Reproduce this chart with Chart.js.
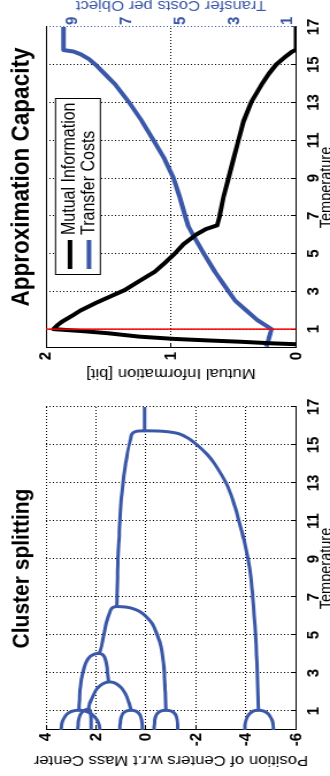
<!DOCTYPE html>
<html><head><meta charset="utf-8">
<script src="https://cdn.jsdelivr.net/npm/chart.js@4.4.0/dist/chart.umd.min.js"></script>
<style>
html,body{margin:0;padding:0;background:#fff;overflow:hidden;width:330px;height:776px;}
#fig{position:absolute;left:0;top:0;width:808px;height:295px;transform-origin:0 0;background:#fff;}
#fig canvas{position:absolute;top:0;}
</style></head><body>
<div id="fig">
<canvas id="left" width="390" height="295" style="left:0px"></canvas>
<canvas id="right" width="418" height="295" style="left:390px"></canvas>
</div>
<script>
// ---------- data ----------
const tempTicks = [1, 3, 5, 7, 9, 11, 13, 15, 17];
const positionTicks = [4, 2, 0, -2, -4, -6];
const miTicks = [0, 1, 2];
const costTicks = [1, 3, 5, 7, 9];

// Cluster splitting: branches as [temperature, position]
const branchTrunk = [[17, 0.05], [15.75, 0.05]];
const branchRootUpper = [[15.75,0.05],[15.72,0.38],[15.6,0.55],[15.3,0.62],[14.6,0.74],[13.8,0.84],[13.0,0.92],[12.0,1.0],[11.0,1.05],[10.0,1.08],[9.0,1.12],[8.0,1.14],[7.0,1.16],[6.5,1.17]];
const branchRootLower = [[15.75,0.05],[15.72,-0.7],[15.6,-1.3],[15.35,-1.7],[15.0,-2.05],[14.5,-2.45],[14.0,-2.75],[13.0,-3.2],[12.0,-3.5],[11.0,-3.72],[10.0,-3.92],[9.0,-4.08],[8.0,-4.2],[7.0,-4.27],[6.0,-4.33],[5.0,-4.38],[4.0,-4.42],[3.0,-4.45],[2.0,-4.48],[1.05,-4.5]];
const branchE1 = [[1.05,-4.5],[1.0,-4.3],[0.9,-4.18],[0.75,-4.08],[0.5,-4.0],[0.25,-3.96],[0,-3.95]];
const branchE2 = [[1.05,-4.5],[1.0,-4.7],[0.9,-4.84],[0.75,-4.95],[0.5,-5.05],[0.25,-5.09],[0,-5.1]];
const branch65Lower = [[6.5,1.17],[6.47,0.8],[6.4,0.55],[6.25,0.27],[6.0,0.02],[5.6,-0.25],[5.0,-0.45],[4.4,-0.6],[3.5,-0.7],[2.8,-0.74],[2.0,-0.77],[1.05,-0.8]];
const branch65Upper = [[6.5,1.17],[6.45,1.33],[6.3,1.42],[5.6,1.6],[4.7,1.73],[4.2,1.82],[4.04,1.87]];
const branchD1 = [[1.05,-0.8],[1.0,-0.6],[0.9,-0.48],[0.75,-0.4],[0.5,-0.35],[0.25,-0.33],[0,-0.33]];
const branchD2 = [[1.05,-0.8],[1.0,-1.0],[0.9,-1.12],[0.75,-1.2],[0.5,-1.25],[0.25,-1.27],[0,-1.27]];
const branch4Upper = [[4.04,1.87],[4.0,2.05],[3.86,2.25],[3.5,2.42],[3.0,2.53],[2.3,2.62],[1.6,2.66],[1.05,2.68]];
const branch4Lower = [[4.04,1.87],[3.95,1.72],[3.7,1.62],[3.2,1.55],[2.54,1.5]];
const branchA1 = [[1.05,2.68],[1.0,2.92],[0.9,3.1],[0.75,3.22],[0.5,3.33],[0.25,3.38],[0,3.4]];
const branchA2 = [[1.05,2.68],[1.0,2.45],[0.9,2.25],[0.75,2.1],[0.5,1.95],[0.25,1.87],[0,1.85]];
const branch25Upper = [[2.54,1.5],[2.45,1.7],[2.3,1.87],[2.1,2.0],[1.75,2.13],[1.4,2.25],[1.1,2.3]];
const branch25Lower = [[2.54,1.5],[2.5,1.3],[2.4,1.15],[2.2,0.97],[1.9,0.82],[1.5,0.7],[1.05,0.6]];
const branchB1 = [[1.1,2.3],[1.05,2.45],[0.9,2.58],[0.7,2.66],[0.4,2.71],[0,2.73]];
const branchB2 = [[1.1,2.3],[1.05,2.25],[0.9,2.22],[0.6,2.2],[0,2.2]];
const branchC1 = [[1.05,0.6],[1.0,0.78],[0.9,0.9],[0.75,0.97],[0.5,1.02],[0.25,1.04],[0,1.05]];
const branchC2 = [[1.05,0.6],[1.0,0.42],[0.9,0.3],[0.75,0.22],[0.5,0.17],[0.25,0.15],[0,0.15]];
const dendrogramBranches = [branchTrunk, branchRootUpper, branchRootLower, branchE1, branchE2,
  branch65Lower, branch65Upper, branchD1, branchD2, branch4Upper, branch4Lower, branchA1, branchA2,
  branch25Upper, branch25Lower, branchB1, branchB2, branchC1, branchC2];

// Approximation capacity
const miT = [0.2, 0.25, 0.33, 0.4, 0.48, 0.6, 0.78, 0.9, 1.0, 1.2, 1.4, 1.75, 2.0, 2.36, 3.07, 3.6, 4.04, 4.5, 5.0, 5.5, 6.0, 6.3, 6.5, 7.0, 8.0, 9.0, 10.0, 11.0, 12.0, 13.0, 14.0, 14.5, 15.0, 15.4, 15.7, 15.8, 17];
const miV = [0, 0.2, 0.44, 0.7, 0.97, 1.25, 1.5, 1.72, 1.94, 1.91, 1.87, 1.78, 1.72, 1.61, 1.37, 1.24, 1.13, 1.05, 0.97, 0.9, 0.8, 0.72, 0.63, 0.61, 0.58, 0.54, 0.5, 0.46, 0.42, 0.36, 0.27, 0.22, 0.16, 0.09, 0.03, 0, 0];
const tcT = [0.07, 0.5, 1.0, 1.5, 2.0, 2.5, 3.0, 3.5, 4.04, 5.0, 6.0, 6.45, 7.0, 8.0, 9.0, 10.0, 11.0, 12.0, 13.0, 14.0, 14.5, 15.0, 15.3, 15.55, 15.7, 15.78, 17];
const tcV = [1.8, 1.7, 1.6, 2.15, 2.55, 2.95, 3.2, 3.45, 3.71, 4.12, 4.53, 4.7, 4.82, 5.02, 5.25, 5.58, 6.0, 6.42, 6.9, 7.45, 7.8, 8.15, 8.4, 8.7, 8.97, 9.35, 9.35];
const markerT = [1, 1];
const markerV = [0, 2];

const leftTitle = 'Cluster splitting';
const rightTitleText = 'Approximation Capacity';
const xLabel = 'Temperature';
const leftYLabel = 'Position of Centers w.r.t Mass Center';
const miLabel = 'Mutual Information [bit]';
const costLabel = 'Transfer Costs per Object';
const seriesNames = ['Mutual Information', 'Transfer Costs'];

// ---------- style ----------
const S = 1.15;
const FONT = "'Liberation Sans', Arial, Helvetica, sans-serif";
const BLUE = '#3b58a8';
document.getElementById('fig').style.transform = 'translate(0px,776px) rotate(-90deg) scale(1,' + S + ')';
Chart.defaults.font.family = FONT;
Chart.defaults.color = '#000';

const fixTicks = vals => s => { s.ticks = vals.map(v => ({value: v})); };
const fixW = w => s => { s.width = w; s.paddingTop = 0; s.paddingBottom = 0; s.paddingLeft = 0; s.paddingRight = 0; };
const fixH = h => s => { s.height = h; s.paddingTop = 0; s.paddingBottom = 0; s.paddingLeft = 0; s.paddingRight = 0; };
const pairs = (xs, ys) => xs.map((x, i) => ({x: x, y: ys[i]}));

const PLOT_TOP = 40, PLOT_BOTTOM = 257.4, CANVAS_H = 295;
const TICK_IN = -4;
const tickFont = {size: 15, weight: 'bold'};
const labelFont = {size: 14.5};

function xScale(gridColor) {
  return {
    type: 'linear', min: 0, max: 17,
    afterBuildTicks: fixTicks(tempTicks),
    afterFit: fixH(CANVAS_H - PLOT_BOTTOM),
    ticks: {font: tickFont, color: '#000', padding: 6.6 - TICK_IN, maxRotation: 0, callback: v => v},
    grid: {color: gridColor || '#000', lineWidth: 1, drawTicks: true, tickLength: TICK_IN},
    border: {color: '#000', width: 1, dash: [1, 2]},
    title: {display: true, text: xLabel, font: labelFont, color: '#000', padding: {top: 0, bottom: 2}}
  };
}

const titleCfg = (text, size, full) => ({display: true, text: text, fullSize: full, color: '#000',
  font: {size: size, weight: 'bold', lineHeight: 1.2},
  padding: {top: 19.1 - size * 0.6, bottom: PLOT_TOP - (19.1 - size * 0.6) - size * 1.2}});

// ---------- plugins ----------
const boxLegend = {
  id: 'boxLegend',
  afterDatasetsDraw(chart, args, o) {
    if (!o || !o.display) return;
    const ctx = chart.ctx, ca = chart.chartArea;
    const items = chart.data.datasets.filter(d => d.inLegend);
    const x0 = ca.left + o.offsetX, y0 = ca.top + o.offsetY;
    ctx.save();
    ctx.fillStyle = '#fff';
    ctx.fillRect(x0, y0, o.width, o.height);
    ctx.strokeStyle = '#000'; ctx.lineWidth = 1;
    ctx.strokeRect(x0 + 0.5, y0 + 0.5, o.width, o.height);
    ctx.font = o.fontSize + 'px ' + FONT;
    items.forEach((d, i) => {
      const cy = y0 + o.padY + o.lineSpacing * (i + 0.5);
      ctx.strokeStyle = d.borderColor; ctx.lineWidth = d.borderWidth;
      ctx.beginPath(); ctx.moveTo(x0 + o.sampleStart, cy); ctx.lineTo(x0 + o.sampleEnd, cy); ctx.stroke();
      ctx.fillStyle = '#000'; ctx.textAlign = 'left'; ctx.textBaseline = 'middle';
      ctx.fillText(d.label, x0 + o.textStart, cy);
    });
    ctx.restore();
  }
};
const sideTitle = {
  id: 'sideTitle',
  afterDraw(chart, args, o) {
    if (!o || !o.text) return;
    const ctx = chart.ctx, ca = chart.chartArea;
    ctx.save();
    ctx.font = o.fontSize + 'px ' + FONT;
    ctx.fillStyle = o.color;
    ctx.translate(o.x, (ca.top + ca.bottom) / 2);
    ctx.rotate(-Math.PI / 2);
    ctx.textAlign = 'center'; ctx.textBaseline = 'middle';
    ctx.fillText(o.text, 0, 0);
    ctx.restore();
  }
};

// ---------- left chart ----------
new Chart(document.getElementById('left'), {
  type: 'scatter',
  data: {
    datasets: dendrogramBranches.map(b => ({
      data: b.map(p => ({x: p[0], y: p[1]})), showLine: true, borderColor: BLUE, borderWidth: 3,
      pointRadius: 0, tension: 0.35, borderCapStyle: 'round', borderJoinStyle: 'round', fill: false
    }))
  },
  options: {
    responsive: false, animation: false, events: [],
    layout: {padding: {left: 0, right: 390 - 369, top: 0, bottom: 0}},
    plugins: {legend: {display: false}, tooltip: {enabled: false}, title: titleCfg(leftTitle, 21, false)},
    scales: {
      x: xScale(),
      y: {
        type: 'linear', min: -6, max: 4,
        afterBuildTicks: fixTicks(positionTicks), afterFit: fixW(46),
        ticks: {font: tickFont, color: '#000', padding: 3 - TICK_IN, callback: v => v},
        grid: {color: '#000', lineWidth: 1, drawTicks: true, tickLength: TICK_IN},
        border: {color: '#000', width: 1, dash: [1, 2]},
        title: {display: true, text: leftYLabel, font: labelFont, color: '#000', padding: {top: 7, bottom: 0}}
      }
    }
  }
});

// ---------- right chart ----------
new Chart(document.getElementById('right'), {
  type: 'scatter',
  data: {
    datasets: [
      {data: pairs(markerT, markerV), showLine: true, borderColor: '#ff0000', borderWidth: 1.5, pointRadius: 0, yAxisID: 'y'},
      {label: seriesNames[0], inLegend: true, data: pairs(miT, miV), showLine: true, borderColor: '#000', borderWidth: 4,
       pointRadius: 0, tension: 0, borderJoinStyle: 'round', yAxisID: 'y'},
      {label: seriesNames[1], inLegend: true, data: pairs(tcT, tcV), showLine: true, borderColor: BLUE, borderWidth: 4,
       pointRadius: 0, tension: 0, borderJoinStyle: 'round', yAxisID: 'y2'}
    ]
  },
  options: {
    responsive: false, animation: false, events: [],
    layout: {padding: {left: 0, right: 0, top: 0, bottom: 0}},
    plugins: {
      legend: {display: false}, tooltip: {enabled: false}, title: titleCfg(rightTitleText, 22.5, true),
      boxLegend: {display: true, offsetX: 73, offsetY: 7.8, width: 176, height: 39, padY: 4.85, lineSpacing: 16.5,
        fontSize: 16, sampleStart: 6, sampleEnd: 35, textStart: 40},
      sideTitle: {text: costLabel, x: 381, fontSize: 14.5, color: BLUE}
    },
    scales: {
      x: xScale(c => (c.tick && c.tick.value === 17) ? BLUE : '#000'),
      xTop: {
        type: 'linear', position: 'top', min: 0, max: 17, afterFit: fixH(0),
        ticks: {display: false}, grid: {display: true, drawOnChartArea: false, drawTicks: false},
        border: {color: '#000', width: 1}
      },
      y: {
        type: 'linear', position: 'left', min: 0, max: 2,
        afterBuildTicks: fixTicks(miTicks), afterFit: fixW(38),
        ticks: {font: tickFont, color: '#000', padding: 4 - TICK_IN, callback: v => v},
        grid: {color: '#000', lineWidth: 1, drawTicks: true, tickLength: TICK_IN},
        border: {color: '#000', width: 1, dash: [1, 2]},
        title: {display: true, text: miLabel, font: labelFont, color: '#000', padding: {top: 4, bottom: 0}}
      },
      y2: {
        type: 'linear', position: 'right', min: 0.69, max: 10,
        afterBuildTicks: fixTicks(costTicks), afterFit: fixW(59),
        ticks: {font: tickFont, color: BLUE, padding: 2, callback: v => v},
        grid: {drawOnChartArea: false, drawTicks: false},
        border: {display: false}
      }
    }
  },
  plugins: [boxLegend, sideTitle]
});
</script>
</body></html>
